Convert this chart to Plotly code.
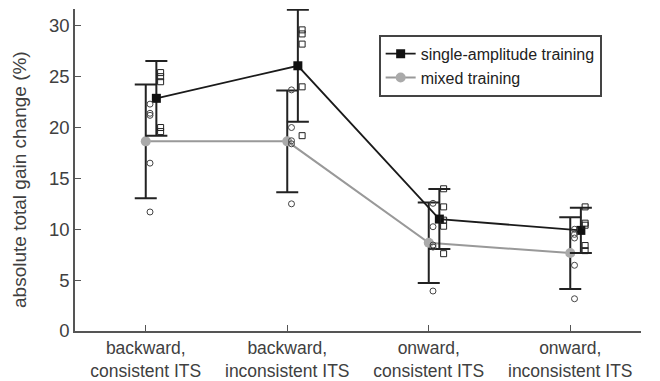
import plotly.graph_objects as go

categories = ["backward,<br>consistent ITS", "backward,<br>inconsistent ITS",
              "onward,<br>consistent ITS", "onward,<br>inconsistent ITS"]
cat_pos = [1, 2, 3, 4]

single_mean = [22.87, 26.07, 11.0, 9.89]
single_err = [3.67, 5.5, 2.95, 2.23]
mixed_mean = [18.64, 18.64, 8.68, 7.66]
mixed_err = [5.6, 5.0, 3.95, 3.52]

# individual subject values
single_ind = [
    [25.4, 25.0, 24.5, 20.0, 19.6],
    [29.6, 29.2, 28.2, 24.0, 19.2],
    [13.98, 12.2, 10.9, 10.3, 7.6],
    [12.2, 10.6, 10.4, 8.4, 7.9],
]
mixed_ind = [
    [22.3, 21.4, 21.2, 16.5, 11.7],
    [23.7, 20.0, 18.7, 18.4, 12.5],
    [12.55, 10.25, 8.45, 8.25, 3.93],
    [10.0, 9.5, 9.14, 6.46, 3.17],
]

y_title = "absolute total gain change (%)"

black_off = 0.075
single_dot_off = 0.105
mixed_dot_off = 0.03

fig = go.Figure()

# mixed training (gray)
fig.add_trace(go.Scatter(
    x=[c for c in cat_pos], y=mixed_mean, mode="lines+markers",
    name="mixed training",
    line=dict(color="#999999", width=2),
    marker=dict(symbol="circle", size=10, color="#aaaaaa"),
    error_y=dict(type="data", array=mixed_err, color="#222222", thickness=2, width=11),
))
# single-amplitude (black)
fig.add_trace(go.Scatter(
    x=[c + black_off for c in cat_pos], y=single_mean, mode="lines+markers",
    name="single-amplitude training",
    line=dict(color="#1a1a1a", width=1.8),
    marker=dict(symbol="square", size=9, color="#111111"),
    error_y=dict(type="data", array=single_err, color="#222222", thickness=2, width=11),
))

# individual points
for i, c in enumerate(cat_pos):
    fig.add_trace(go.Scatter(
        x=[c + mixed_dot_off] * len(mixed_ind[i]), y=mixed_ind[i], mode="markers",
        showlegend=False,
        marker=dict(symbol="circle-open", size=6, color="#444444", line=dict(width=1)),
    ))
    fig.add_trace(go.Scatter(
        x=[c + single_dot_off] * len(single_ind[i]), y=single_ind[i], mode="markers",
        showlegend=False,
        marker=dict(symbol="square-open", size=6, color="#222222", line=dict(width=1)),
    ))

font_family = "Liberation Sans, Arial, sans-serif"
fig.update_layout(
    width=660, height=381,
    margin=dict(l=75, r=19, t=9, b=50),
    paper_bgcolor="white", plot_bgcolor="white",
    font=dict(family=font_family, color="#404040", size=17),
    xaxis=dict(
        range=[0.5, 4.5], tickvals=cat_pos, ticktext=categories,
        showline=True, linecolor="#555555", linewidth=1.5,
        ticks="inside", ticklen=6, tickcolor="#555555",
        showgrid=False, zeroline=False, automargin=False,
        tickfont=dict(size=17.5, color="#404040"),
    ),
    yaxis=dict(
        range=[0, 31.65], tickvals=[0, 5, 10, 15, 20, 25, 30],
        showline=True, linecolor="#555555", linewidth=1.5,
        ticks="inside", ticklen=6, tickcolor="#555555",
        showgrid=False, zeroline=False, automargin=False,
        tickfont=dict(size=18.5, color="#404040"),
    ),
    legend=dict(
        x=0.5365, y=0.92, xanchor="left", yanchor="top",
        bordercolor="#444444", borderwidth=2, bgcolor="white",
        font=dict(size=16, color="#222222"),
        traceorder="reversed", itemwidth=30,
        tracegroupgap=0,
    ),
    annotations=[dict(
        text=y_title, textangle=-90, showarrow=False,
        xref="paper", yref="paper", x=-0.099, y=0.472,
        xanchor="center", yanchor="middle",
        font=dict(size=19, color="#404040", family=font_family),
    )],
)

fig.write_html("out.html")
